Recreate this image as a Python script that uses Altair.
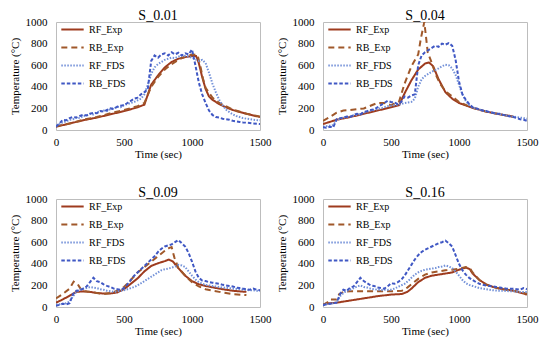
import altair as alt
import pandas as pd

FONT = "Liberation Serif"
SERIES = ["RF_Exp", "RB_Exp", "RF_FDS", "RB_FDS"]
COLORS = ["#9E3B1E", "#A0582A", "#7391D8", "#4058C4"]
DASHES = [[1, 0], [6, 4], [1.5, 1.5], [3.5, 2]]
WIDTHS = [2, 2, 1.5, 1.5]

FDS_TIME = list(range(0, 1501, 25))

# ---------------- S_0.01 ----------------
p1_rf_exp_t = [0, 100, 200, 300, 400, 500, 600, 650, 700, 750, 800, 850, 900, 950, 1000, 1030, 1050, 1075, 1100, 1125, 1150, 1200, 1250, 1300, 1400, 1500]
p1_rf_exp_v = [30, 60, 90, 115, 145, 175, 210, 235, 420, 505, 580, 630, 660, 675, 685, 685, 620, 490, 380, 310, 280, 240, 210, 185, 150, 120]
p1_rb_exp_t = [0, 100, 200, 300, 400, 500, 600, 650, 700, 750, 800, 850, 900, 950, 1000, 1040, 1060, 1080, 1100, 1150, 1200, 1300, 1400, 1500]
p1_rb_exp_v = [35, 60, 95, 120, 155, 185, 220, 250, 400, 490, 560, 610, 650, 680, 700, 695, 600, 480, 390, 300, 250, 190, 150, 125]
p1_rf_fds = [40, 55, 70, 80, 95, 100, 115, 110, 130, 135, 150, 145, 165, 170, 180, 175, 195, 200, 215, 210,
             230, 240, 250, 260, 275, 290, 330, 420, 520, 580, 610, 630, 650, 660, 670, 665, 680, 690, 685, 680,
             670, 655, 640, 650, 620, 530, 430, 350, 280, 230, 190, 165, 145, 130, 120, 110, 105, 100, 95, 92, 90]
p1_rb_fds = [30, 60, 95, 90, 110, 120, 115, 130, 140, 135, 150, 160, 155, 175, 170, 185, 200, 195, 215, 225,
             230, 250, 270, 290, 300, 330, 350, 380, 640, 690, 670, 700, 710, 690, 720, 700, 715, 690, 710, 700,
             745, 600, 440, 330, 250, 180, 140, 120, 115, 105, 100, 95, 85, 80, 75, 70, 68, 65, 60, 58, 55]

# ---------------- S_0.04 ----------------
p2_rf_exp_t = [0, 100, 200, 300, 400, 500, 560, 600, 650, 700, 750, 780, 810, 850, 900, 950, 1000, 1100, 1200, 1300, 1400]
p2_rf_exp_v = [55, 95, 120, 150, 180, 210, 230, 340, 460, 560, 615, 625, 590, 470, 350, 290, 250, 205, 170, 145, 125]
p2_rb_exp_t = [0, 50, 100, 150, 200, 300, 400, 450, 500, 560, 600, 650, 700, 720, 745, 770, 800, 830, 860, 900, 1000, 1100, 1200, 1300, 1400]
p2_rb_exp_v = [85, 120, 160, 180, 185, 200, 250, 250, 230, 265, 430, 590, 700, 850, 1000, 720, 620, 510, 430, 360, 260, 205, 170, 145, 120]
p2_rf_fds = [30, 35, 40, 45, 90, 105, 115, 120, 125, 135, 140, 150, 160, 170, 180, 185, 195, 200, 210, 220,
             225, 230, 235, 240, 250, 255, 260, 290, 400, 470, 500, 520, 540, 555, 570, 590, 605, 600, 570, 510,
             420, 330, 270, 230, 210, 200, 190, 180, 175, 165, 160, 150, 145, 140, 135, 130, 125, 120, 115, 110, 105]
p2_rb_fds = [25, 20, 30, 25, 100, 110, 115, 125, 120, 140, 150, 145, 165, 175, 185, 190, 210, 230, 250, 270,
             260, 255, 240, 260, 310, 300, 320, 330, 600, 690, 720, 740, 760, 780, 770, 800, 790, 805, 780, 650,
             450, 330, 280, 240, 210, 200, 190, 180, 175, 165, 160, 150, 150, 140, 135, 125, 120, 110, 100, 95, 85]

# ---------------- S_0.09 ----------------
p3_rf_exp_t = [0, 50, 100, 150, 200, 250, 300, 350, 400, 450, 500, 550, 600, 650, 700, 750, 800, 830, 860, 900, 950, 1000, 1050, 1100, 1200, 1300, 1400]
p3_rf_exp_v = [40, 70, 105, 140, 145, 140, 130, 125, 125, 135, 165, 215, 265, 330, 380, 405, 425, 440, 420, 360, 290, 240, 210, 195, 170, 150, 140]
p3_rb_exp_t = [0, 50, 100, 130, 160, 190, 250, 300, 350, 400, 450, 500, 550, 600, 650, 700, 750, 800, 830, 850, 870, 900, 950, 1000, 1050, 1100, 1200, 1300, 1400]
p3_rb_exp_v = [80, 120, 170, 235, 210, 150, 140, 130, 120, 130, 150, 185, 250, 320, 370, 420, 470, 520, 545, 555, 460, 360, 290, 230, 190, 165, 140, 120, 110]
p3_rf_fds = [20, 25, 30, 35, 50, 100, 140, 160, 170, 175, 185, 180, 175, 165, 160, 150, 145, 140, 145, 150,
             155, 165, 175, 185, 200, 220, 240, 260, 280, 300, 320, 340, 350, 355, 365, 375, 390, 385, 370, 330,
             290, 255, 230, 215, 205, 200, 195, 190, 185, 180, 178, 175, 170, 168, 165, 160, 158, 155, 155, 150, 150]
p3_rb_fds = [10, 20, 30, 25, 35, 120, 150, 155, 170, 190, 230, 270, 240, 230, 210, 195, 185, 170, 165, 160,
             175, 210, 250, 290, 320, 350, 380, 410, 440, 470, 510, 540, 560, 570, 580, 600, 620, 590, 560, 500,
             420, 330, 270, 245, 240, 230, 225, 220, 215, 205, 200, 195, 190, 180, 175, 170, 165, 160, 170, 160, 155]

# ---------------- S_0.16 ----------------
p4_rf_exp_t = [0, 50, 100, 200, 300, 400, 500, 580, 620, 650, 700, 750, 800, 850, 900, 950, 1000, 1050, 1080, 1100, 1150, 1200, 1250, 1300, 1400, 1500]
p4_rf_exp_v = [25, 35, 40, 60, 80, 100, 115, 120, 140, 170, 230, 270, 290, 300, 310, 320, 345, 365, 350, 310, 250, 210, 185, 170, 150, 115]
p4_rb_exp_t = [0, 30, 50, 100, 120, 150, 200, 300, 400, 500, 580, 620, 650, 700, 750, 800, 850, 900, 950, 1000, 1050, 1080, 1100, 1150, 1200, 1300, 1400, 1500]
p4_rb_exp_v = [20, 40, 70, 70, 120, 140, 145, 145, 145, 145, 150, 180, 210, 260, 300, 320, 330, 340, 345, 355, 370, 360, 320, 250, 205, 170, 150, 125]
p4_rf_fds = [20, 25, 30, 35, 40, 100, 130, 150, 160, 175, 190, 200, 185, 180, 170, 165, 160, 155, 160, 158,
             160, 170, 185, 200, 215, 240, 270, 300, 320, 335, 345, 350, 355, 360, 370, 375, 385, 375, 360, 330,
             290, 250, 220, 205, 195, 185, 175, 170, 165, 160, 155, 152, 150, 150, 148, 145, 145, 142, 140, 140, 138]
p4_rb_fds = [15, 25, 30, 35, 40, 120, 160, 150, 180, 190, 230, 270, 240, 220, 200, 195, 180, 175, 170, 190,
             220, 215, 230, 250, 290, 340, 390, 440, 480, 510, 530, 545, 560, 575, 590, 600, 615, 590, 560, 480,
             400, 340, 300, 270, 250, 230, 215, 205, 200, 195, 190, 185, 180, 175, 170, 168, 170, 165, 160, 175, 165]

PANELS = [
    ("S_0.01", (p1_rf_exp_t, p1_rf_exp_v), (p1_rb_exp_t, p1_rb_exp_v), p1_rf_fds, p1_rb_fds),
    ("S_0.04", (p2_rf_exp_t, p2_rf_exp_v), (p2_rb_exp_t, p2_rb_exp_v), p2_rf_fds, p2_rb_fds),
    ("S_0.09", (p3_rf_exp_t, p3_rf_exp_v), (p3_rb_exp_t, p3_rb_exp_v), p3_rf_fds, p3_rb_fds),
    ("S_0.16", (p4_rf_exp_t, p4_rf_exp_v), (p4_rb_exp_t, p4_rb_exp_v), p4_rf_fds, p4_rb_fds),
]


def make_df(rf_exp, rb_exp, rf_fds, rb_fds):
    rows = []
    for t, v in zip(*rf_exp):
        rows.append({"t": t, "T": v, "s": "RF_Exp"})
    for t, v in zip(*rb_exp):
        rows.append({"t": t, "T": v, "s": "RB_Exp"})
    for t, v in zip(FDS_TIME, rf_fds):
        rows.append({"t": t, "T": v, "s": "RF_FDS"})
    for t, v in zip(FDS_TIME, rb_fds):
        rows.append({"t": t, "T": v, "s": "RB_FDS"})
    return pd.DataFrame(rows)


legend = alt.Legend(
    title=None, orient="none", legendX=4, legendY=-5, padding=0,
    symbolType="stroke", symbolSize=500, symbolStrokeWidth=2,
    labelFont=FONT, labelFontSize=10, labelColor="black", rowPadding=-1,
)

AX = dict(labelFont=FONT, titleFont=FONT, labelFontSize=11, titleFontSize=11,
          titleFontWeight="normal", labelColor="black", titleColor="black",
          grid=False, ticks=False, domain=False, format="d")


def panel(title, rf_exp, rb_exp, rf_fds, rb_fds):
    df = make_df(rf_exp, rb_exp, rf_fds, rb_fds)
    return alt.Chart(df, title=alt.TitleParams(title, font=FONT, fontSize=14, fontWeight="normal", color="black", offset=-7)).mark_line(clip=True).encode(
        x=alt.X("t:Q", scale=alt.Scale(domain=[0, 1500], nice=False),
                axis=alt.Axis(values=[0, 500, 1000, 1500], title="Time (sec)", labelFlush=False,
                              labelPadding=6, titlePadding=1, **AX)),
        y=alt.Y("T:Q", scale=alt.Scale(domain=[0, 1000], nice=False),
                axis=alt.Axis(values=[0, 200, 400, 600, 800, 1000], title="Temperature (°C)",
                              labelPadding=9, titlePadding=5, **AX)),
        color=alt.Color("s:N", scale=alt.Scale(domain=SERIES, range=COLORS), legend=legend),
        strokeDash=alt.StrokeDash("s:N", scale=alt.Scale(domain=SERIES, range=DASHES), legend=legend),
        strokeWidth=alt.StrokeWidth("s:N", scale=alt.Scale(domain=SERIES, range=WIDTHS), legend=None),
    ).properties(width=204, height=108)


charts = [panel(*p) for p in PANELS]
top = alt.hconcat(charts[0], charts[1], spacing=3).resolve_scale(color="independent", strokeDash="independent").resolve_legend(color="independent", strokeDash="independent")
bottom = alt.hconcat(charts[2], charts[3], spacing=3).resolve_scale(color="independent", strokeDash="independent").resolve_legend(color="independent", strokeDash="independent")
chart = alt.vconcat(top, bottom, spacing=25).resolve_scale(
    color="independent", strokeDash="independent"
).resolve_legend(
    color="independent", strokeDash="independent"
).properties(padding=0).configure_view(stroke="#bdbdbd")

chart.save("out.html", embed_options={"renderer": "svg", "actions": False})
